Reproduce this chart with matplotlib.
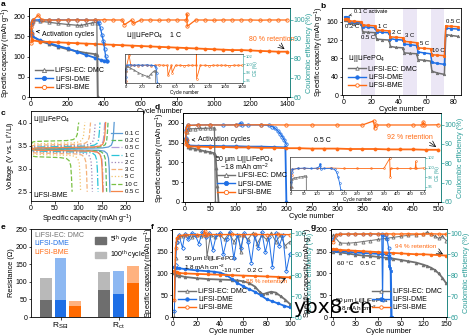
import numpy as np
import matplotlib
matplotlib.use("Agg")
import matplotlib.pyplot as plt
from matplotlib.lines import Line2D
from matplotlib.patches import Patch

plt.rcParams["font.family"] = ["Liberation Sans", "DejaVu Sans"]
plt.rcParams["mathtext.fontset"] = "custom"
plt.rcParams["mathtext.rm"] = "Liberation Sans"
plt.rcParams["mathtext.it"] = "Liberation Sans:italic"
plt.rcParams["mathtext.bf"] = "Liberation Sans:bold"
plt.rcParams["mathtext.default"] = "regular"
plt.rcParams["axes.linewidth"] = 0.6

GRAY = "#707070"
BLUE = "#1f6fe5"
ORANGE = "#ff6a13"
TEAL = "#2a9d98"
FS = 5.0
LFS = 5.3
NAMES = ["LiFSI-EC: DMC", "LiFSI-DME", "LiFSI-BME"]

# ---------------- panel a: 1 C long cycling ----------------
a_ec_cyc = [1, 2, 3, 8, 50, 100, 150, 200, 250, 300, 350, 363, 365]
a_ec_cap = [158, 157, 156, 150, 138, 131, 124, 118, 113, 109, 106, 105, 0]
a_ec_ce_cyc = [1, 3, 10, 50, 100, 150, 200, 250, 275, 300, 335, 360, 364]
a_ec_ce = [95, 98.5, 99.5, 99.2, 98.6, 98.0, 97.5, 97.1, 97.0, 97.6, 98.3, 98.5, 60]

a_dme_cyc = [1, 2, 3, 8, 50, 100, 150, 200, 250, 300, 350, 380, 400, 415]
a_dme_cap = [160, 159, 158, 150, 140, 133, 126, 120, 112, 104, 97, 92, 90, 90]
a_dme_ce_cyc = [1, 2, 3, 10, 50, 100, 150, 200, 250, 300, 350, 365, 372, 380, 388, 395, 402, 408, 415]
a_dme_ce = [92, 97, 99, 99.8, 99.9, 99.8, 99.9, 99.8, 99.9, 99.8, 99.7, 99.2, 98, 95.5, 92, 89, 85, 81, 78.5]

a_bme_cyc = [1, 2, 3, 8, 50, 100, 150, 200, 250, 300, 350, 400, 450, 500, 550, 600,
             650, 700, 750, 800, 850, 900, 950, 1000, 1050, 1100, 1150, 1200, 1250, 1300, 1350, 1400]
a_bme_cap = [158, 157, 156, 140, 137, 136, 135, 134, 133, 132, 131, 130, 129, 128, 127, 126,
             125, 124, 123, 122, 121, 120, 119, 118, 117, 116, 116, 115, 114, 113, 112, 112]
a_bme_ce_cyc = [1, 2, 3, 10, 40, 60, 100, 150, 200, 250, 300, 350, 400, 450, 500, 510, 550, 560, 600,
                650, 700, 750, 800, 850, 852, 854, 900, 950, 1000, 1050, 1100, 1150, 1200, 1250, 1300, 1350, 1400]
a_bme_ce = [88, 96, 98.5, 99.7, 102.3, 99.8, 99.8, 99.7, 99.8, 99.8, 99.7, 99.8, 99.9, 99.8, 99.8, 97.3, 99.8, 98.0, 99.8,
            99.8, 99.7, 99.8, 99.8, 99.8, 103.0, 96.5, 99.8, 99.8, 99.7, 99.8, 99.8, 99.8, 99.8, 99.7, 99.8, 99.8, 99.8]

# ---------------- panel b: rate capability ----------------
b_cyc = [1, 2, 3, 4, 8, 13, 14, 18, 23, 24, 28, 33, 34, 38, 43, 44, 48, 53, 54, 58, 63, 64, 68, 73, 74, 78, 83]
b_ec = [163, 164, 163, 157, 156, 155, 138, 137, 136, 122, 121, 120, 106, 104, 103, 92, 91, 90,
        77, 76, 74, 52, 48, 45, 132, 130, 128]
b_dme = [170, 171, 170, 160, 159, 158, 149, 148, 147, 138, 137, 136, 123, 121, 120, 111, 110, 108,
         94, 92, 90, 71, 69, 67, 146, 145, 144]
b_bme = [165, 167, 167, 162, 161, 160, 153, 152, 151, 142, 141, 140, 127, 126, 125, 117, 116, 114,
         103, 102, 101, 88, 87, 86, 151, 150, 149]
b_bands = [(13, 23), (43, 53), (63, 73)]
b_rate_labels = ["0.2 C", "0.5 C", "1 C", "2 C", "3 C", "5 C", "10 C", "0.5 C"]
b_rate_x = [6, 18, 28, 38.5, 48, 59, 68.5, 79]
b_rate_y = [149, 125, 150, 137, 129, 113, 98, 160]

# ---------------- panel c: voltage profiles (LiFSI-BME) ----------------
c_rates = ["0.1 C", "0.2 C", "0.5 C", "1 C", "2 C", "3 C", "5 C", "10 C", "0.5 C"]
c_colors = ["#5b9bd5", "#5cb85c", "#b39ddb", "#2bc4d8", "#9e86b8", "#f5b27a", "#f2c46d", "#7ac143", "#f4874b"]
c_styles = ["-", "--", "-.", "-.", ":", "--", ":", "--", "-"]
c_chg_cap = [176, 163, 156, 146, 136, 126, 114, 101, 158]
c_dis_cap = [167, 160, 153, 142, 130, 119, 105, 87, 152]
c_chg_v = [3.44, 3.45, 3.46, 3.48, 3.50, 3.52, 3.55, 3.60, 3.46]
c_dis_v = [3.41, 3.40, 3.39, 3.37, 3.35, 3.33, 3.30, 3.25, 3.39]
# profile shape: capacity from start (head) / from end (tail), voltage offset from plateau
c_head_q = [0, 1, 4, 10]
c_chg_head_dv = [-0.20, -0.06, -0.02, -0.01]
c_dis_head_dv = [0.15, 0.06, 0.02, 0.01]
c_tail_q = [-25, -12, -6, -3, -1.5]
c_chg_tail_dv = [0.01, 0.03, 0.07, 0.15, 0.30]
c_dis_tail_dv = [-0.01, -0.03, -0.08, -0.18, -0.40]

# ---------------- panel d: 50 um Li, 0.5 C ----------------
d_ec_cyc = [1, 2, 3, 5, 10, 20, 30, 40, 50, 58, 60, 62, 64, 66]
d_ec_cap = [156, 158, 155, 140, 137, 134, 131, 128, 126, 123, 118, 85, 40, 0]
d_ec_ce_cyc = [1, 3, 5, 10, 20, 30, 40, 50, 58, 60]
d_ec_ce = [92, 96, 97.5, 97.8, 97.9, 98.0, 98.1, 98.2, 98.3, 60]

d_dme_cyc = [1, 2, 3, 5, 25, 50, 75, 100, 125, 150, 175, 198, 200]
d_dme_cap = [160, 158, 157, 143, 142, 142, 141, 141, 140, 140, 139, 138, 0]
d_dme_ce_cyc = [1, 2, 3, 5, 25, 50, 75, 100, 108, 110, 112, 125, 150, 165, 172, 178, 183, 188, 192, 196, 200]
d_dme_ce = [93, 97, 99, 99.6, 99.8, 99.9, 99.8, 99.9, 100.3, 100.8, 99.7, 99.8, 99.8, 99.6, 99.0, 98.0,
            96.8, 95.3, 93.8, 92, 89.8]

d_bme_cyc = [1, 2, 3, 5, 25, 50, 75, 100, 125, 150, 175, 200, 225, 250, 275, 300, 325, 350,
             375, 400, 425, 450, 475, 500]
d_bme_cap = [158, 160, 157, 141, 140, 139, 139, 138, 138, 137, 137, 136, 136, 135, 135, 135, 134, 134,
             134, 133, 133, 133, 132, 132]
d_bme_ce_cyc = [1, 2, 3, 5, 25, 50, 100, 150, 200, 250, 300, 350, 372, 374, 376, 400, 450, 468, 470, 472, 500]
d_bme_ce = [90, 96, 98.5, 99.6, 99.8, 99.8, 99.8, 99.9, 99.8, 99.8, 99.8, 99.8, 101.9, 98.1, 99.8,
            99.8, 99.8, 99.8, 101.3, 99.8, 99.9]

# ---------------- panel e: impedance ----------------
e_groups = [r"R$_{SEI}$", r"R$_{ct}$"]
e_ec_5 = [49, 78]
e_ec_100 = [112, 128]
e_dme_5 = [47, 66]
e_dme_100 = [168, 130]
e_bme_5 = [30, 98]
e_bme_100 = [45, 144]

# ---------------- panel f: -10 C ----------------
f_ec_cyc = [1, 2, 5, 10, 20, 30, 40, 50, 55, 60, 65, 70, 74, 77, 80, 84, 88, 92, 96, 100]
f_ec_cap = [100, 97, 95, 92, 89, 87, 86, 85, 84, 82, 78, 70, 58, 52, 55, 58, 56, 48, 40, 30]
f_ec_ce_cyc = [1, 2, 3, 5, 8, 12, 16, 20, 24, 28, 29, 32, 36, 40, 44, 48, 52, 56, 58, 60,
               64, 68, 72, 76, 80, 84, 88, 92, 96, 100]
f_ec_ce = [60, 88, 96, 98, 98.5, 99, 98, 99, 98.5, 99, 89, 99, 98, 99.5, 97, 100, 96, 99, 91, 99,
           97, 100, 95, 99, 97, 100, 96, 99, 94, 96]

f_dme_cyc = [1, 2, 5, 10, 20, 30, 35, 40, 45, 50, 55, 60, 65, 70, 75, 80, 85, 90, 95, 100]
f_dme_cap = [115, 113, 112, 110, 107, 105, 104, 102, 97, 88, 78, 71, 64, 58, 50, 41, 36, 31, 26, 22]
f_dme_ce_cyc = [1, 2, 3, 5, 8, 10, 13, 16, 19, 22, 25, 28, 31, 34, 37, 40, 43, 46, 49, 52,
                55, 58, 61, 64, 67, 70, 73, 76, 79, 82, 85, 88, 91, 94, 97, 100]
f_dme_ce = [63, 85, 96, 99, 93, 99.5, 97, 100, 99, 95, 100.5, 98, 100, 92, 99, 100, 90, 97, 100.5, 88,
            99, 93, 100, 96, 86, 99, 93, 100.5, 91, 98, 84, 100, 94, 99, 82, 90]

f_bme_cyc = [1, 2, 3, 5, 10, 20, 30, 40, 50, 60, 70, 80, 90, 100]
f_bme_cap = [106, 104, 103, 101, 100, 99, 98, 97, 96, 95, 94, 93, 92, 91]
f_bme_ce_cyc = [1, 2, 3, 5, 10, 20, 26, 27, 28, 30, 40, 50, 60, 70, 80, 90, 100]
f_bme_ce = [68, 93, 97.5, 98.8, 99.2, 99.3, 99.3, 101, 99.3, 99.4, 99.3, 99.4, 99.3, 99.4, 99.3, 99.4, 99.3]

# ---------------- panel g: 60 C ----------------
g_ec_cyc = [1, 10, 20, 30, 40, 50, 60, 70, 80, 90, 100, 110, 120, 125, 130, 135, 140, 145, 150]
g_ec_cap = [150, 148, 146, 143, 141, 140, 138, 136, 134, 131, 128, 125, 120, 117, 113, 108, 100, 90, 77]
g_ec_ce = [99, 95.3, 95.2, 95.5, 96, 96.5, 97, 97.5, 98, 98.5, 99, 99.3, 99.6, 100.5, 99.5, 98.5, 97.5, 98.5, 96.5]

g_dme_cyc = [1, 5, 10, 20, 30, 40, 50, 60, 65, 70, 74, 75, 76, 77, 78]
g_dme_cap = [153, 152, 151, 150, 148, 147, 146, 145, 144, 144, 140, 118, 112, 105, 0]
g_dme_ce_cyc = [1, 5, 10, 20, 30, 40, 50, 60, 65, 66, 67, 70, 72, 74, 75, 76, 77]
g_dme_ce = [97, 99.3, 99.5, 99.5, 99.6, 99.5, 99.6, 99.5, 99.4, 68, 99.2, 99.3, 97, 93, 90, 88, 60]

g_bme_cyc = [1, 5, 10, 20, 30, 40, 50, 60, 70, 80, 90, 100, 110, 120, 130, 140, 150]
g_bme_cap = [156, 155, 154, 153, 152, 151, 150, 149, 148, 147, 146, 145, 144, 144, 143, 142, 141]
g_bme_ce = [96, 99.3, 99.5, 99.6, 99.6, 99.6, 99.7, 99.6, 99.7, 99.6, 99.6, 99.7, 99.6, 99.6, 99.7, 99.6, 99.5]

W, H = 471, 336
fig = plt.figure(figsize=(W / 100, H / 100), dpi=100)


def px_axes(l, t, r, b):
    return fig.add_axes([l / W, 1 - b / H, (r - l) / W, (b - t) / H])


def style(ax, fs=FS):
    ax.tick_params(labelsize=fs, length=1.8, width=0.5, pad=0.8)


def style_ce(ax2, fs=FS):
    ax2.spines["right"].set_color(TEAL)
    ax2.tick_params(axis="y", colors=TEAL, labelsize=fs, length=1.8, width=0.5, pad=0.8)
    ax2.set_ylabel("Coulombic efficiency (%)", fontsize=LFS, color=TEAL, labelpad=0.5)


def handles(ms=3):
    return [Line2D([], [], color=GRAY, marker="^", ms=ms, lw=1, mfc="white", mew=0.6),
            Line2D([], [], color=BLUE, marker="o", ms=ms, lw=1, mew=0.6),
            Line2D([], [], color=ORANGE, marker="o", ms=ms, lw=1, mfc="white", mew=0.6)]


def cap(ax, x, y, color, marker, ms=2.2, lw=1.3):
    ax.plot(x, y, color=color, marker=marker, ms=ms, lw=lw, mew=0.5)


def ce(ax, x, y, color, marker, ms=2.4, lw=0.9):
    ax.plot(x, y, color=color, marker=marker, ms=ms, lw=lw, mfc="none", mew=0.6)


def panel_label(x, y, s):
    fig.text(x / W, 1 - y / H, s, fontsize=6, fontweight="bold", va="top", ha="left")


def ce_inset(box, xmax, xstep, ylim, series):
    ins = px_axes(*box)
    for x, y, c, m in series:
        ins.plot(x, y, color=c, marker=m, ms=1.3, lw=0.6, mfc="none", mew=0.4)
    ins.set_xlim(-xmax * 0.007, xmax * 1.01)
    ins.set_ylim(*ylim)
    ins.set_xticks(range(0, xmax + 1, xstep))
    ins.set_yticks([96, 98, 100, 102])
    ins.yaxis.tick_right()
    ins.yaxis.set_label_position("right")
    ins.tick_params(labelsize=3.0, length=1.2, width=0.4, pad=0.5)
    ins.tick_params(axis="y", colors=TEAL)
    ins.spines["right"].set_color(TEAL)
    for s in ins.spines.values():
        s.set_linewidth(0.4)
    ins.set_xlabel("Cycle number", fontsize=3.3, labelpad=0.3)
    ins.set_ylabel("CE (%)", fontsize=3.3, color=TEAL, labelpad=0.8)
    return ins


# ================= panel a =================
ax = px_axes(29, 8, 290, 97)
ax2 = ax.twinx()
cap(ax, a_ec_cyc, a_ec_cap, GRAY, "^")
cap(ax, a_dme_cyc, a_dme_cap, BLUE, "o")
cap(ax, a_bme_cyc, a_bme_cap, ORANGE, "o")
ce(ax2, a_ec_ce_cyc, a_ec_ce, GRAY, "^")
ce(ax2, a_dme_ce_cyc, a_dme_ce, BLUE, "o")
ce(ax2, a_bme_ce_cyc, a_bme_ce, ORANGE, "o")
ax.set_xlim(-11, 1416)
ax.set_ylim(0, 220)
ax2.set_ylim(60, 106)
ax.set_xticks(range(0, 1401, 200))
ax.set_yticks(range(0, 201, 50))
ax2.set_yticks(range(60, 101, 10))
style(ax)
style_ce(ax2)
ax.set_xlabel("Cycle number", fontsize=LFS, labelpad=0.5)
ax.set_ylabel("Specific capacity (mAh g$^{-1}$)", fontsize=LFS, labelpad=0.5)
ax.annotate("Activation cycles", xy=(12, 163), xytext=(60, 155), fontsize=FS, va="center",
            arrowprops=dict(arrowstyle="->", lw=0.5, color="black"))
ax.text(520, 151, "Li||LiFePO$_4$    1 C", fontsize=FS, va="center")
ax.text(1190, 141, "80 % retention", fontsize=FS, color=ORANGE, va="center")
ax.annotate("", xy=(1398, 114), xytext=(1345, 133),
            arrowprops=dict(arrowstyle="->", lw=0.5, color="black"))
ax2.legend(handles(), NAMES, loc="lower left", bbox_to_anchor=(0.0, 0.0), fontsize=FS, frameon=False,
           handlelength=2.6, labelspacing=0.25, borderpad=0.3, handletextpad=0.4)
ce_inset((125, 54, 243, 83), 1400, 200, (95.4, 102.6),
         [(a_bme_ce_cyc, a_bme_ce, ORANGE, "o"), (a_dme_ce_cyc, a_dme_ce, BLUE, "o"),
          (a_ec_ce_cyc, a_ec_ce, GRAY, "^")])
panel_label(1, 1, "a")

# ================= panel b =================
ax = px_axes(342, 8, 461, 95)
for s, e in b_bands:
    ax.axvspan(s, e, color="#ebe6f5", lw=0, zorder=0)
cap(ax, b_cyc, b_ec, GRAY, "^", ms=1.8, lw=1.1)
cap(ax, b_cyc, b_dme, BLUE, "o", ms=1.8, lw=1.1)
cap(ax, b_cyc, b_bme, ORANGE, "o", ms=1.8, lw=1.1)
ax.set_xlim(-1, 85)
ax.set_ylim(0, 190)
ax.set_xticks(range(0, 81, 20))
ax.set_yticks(range(0, 161, 40))
style(ax)
ax.set_xlabel("Cycle number", fontsize=LFS, labelpad=0.5)
ax.set_ylabel("Specific capacity (mAh g$^{-1}$)", fontsize=LFS, labelpad=0.5)
ax.annotate("0.1 C activate", xy=(2, 173), xytext=(8, 182), fontsize=4.0, va="center",
            arrowprops=dict(arrowstyle="->", lw=0.4, color="black"))
for lab, x, y in zip(b_rate_labels, b_rate_x, b_rate_y):
    ax.text(x, y, lab, fontsize=4.3, ha="center", va="center")
ax.legend(handles(2.5), NAMES, title="Li||LiFePO$_4$", title_fontsize=FS, alignment="left",
          loc="lower left", bbox_to_anchor=(0.0, 0.0), fontsize=FS, frameon=False,
          handlelength=2.6, labelspacing=0.2, borderpad=0.3, handletextpad=0.4)
panel_label(320, 3, "b")

# ================= panel c =================
ax = px_axes(31, 111, 143, 201)
for i in range(len(c_rates)):
    qc, vc = c_chg_cap[i], c_chg_v[i]
    qd, vd = c_dis_cap[i], c_dis_v[i]
    xs = c_head_q + [qc + t for t in c_tail_q] + [qc]
    ys = [vc + d for d in c_chg_head_dv] + [vc + d for d in c_chg_tail_dv] + [4.0]
    ax.plot(xs, ys, color=c_colors[i], ls=c_styles[i], lw=0.9)
    xs = c_head_q + [qd + t for t in c_tail_q] + [qd]
    ys = [vd + d for d in c_dis_head_dv] + [vd + d for d in c_dis_tail_dv] + [2.5]
    ax.plot(xs, ys, color=c_colors[i], ls=c_styles[i], lw=0.9, label=c_rates[i])
ax.set_xlim(0, 237)
ax.set_ylim(2.3, 4.25)
ax.set_xticks(range(0, 201, 50))
ax.set_yticks([2.5, 3.0, 3.5, 4.0])
ax.set_yticklabels(["2.5", "3.0", "3.5", "4.0"])
style(ax)
ax.set_xlabel("Specific capacity (mAh g$^{-1}$)", fontsize=LFS, labelpad=0.5)
ax.set_ylabel("Voltage (V vs. Li$^{+}$/Li)", fontsize=LFS, labelpad=0.5)
ax.text(0.02, 0.97, "Li||LiFePO$_4$", transform=ax.transAxes, fontsize=FS, va="top")
ax.text(0.02, 0.02, "LiFSI-BME", transform=ax.transAxes, fontsize=FS, va="bottom")
ax.legend(loc="center right", bbox_to_anchor=(1.0, 0.43), fontsize=4.3, frameon=False,
          handlelength=1.8, labelspacing=0.35, borderpad=0.2, handletextpad=0.4)
panel_label(1, 110, "c")

# ================= panel d =================
ax = px_axes(183, 113, 441, 202)
ax2 = ax.twinx()
cap(ax, d_ec_cyc, d_ec_cap, GRAY, "^")
cap(ax, d_dme_cyc, d_dme_cap, BLUE, "o")
cap(ax, d_bme_cyc, d_bme_cap, ORANGE, "o")
ce(ax2, d_ec_ce_cyc, d_ec_ce, GRAY, "^")
ce(ax2, d_dme_ce_cyc, d_dme_ce, BLUE, "o")
ce(ax2, d_bme_ce_cyc, d_bme_ce, ORANGE, "o")
ax.set_xlim(-4, 505)
ax.set_ylim(0, 225)
ax2.set_ylim(60, 106)
ax.set_xticks(range(0, 501, 50))
ax.set_yticks(range(0, 201, 50))
ax2.set_yticks(range(60, 101, 10))
style(ax)
style_ce(ax2)
ax.set_xlabel("Cycle number", fontsize=LFS, labelpad=0.5)
ax.set_ylabel("Specific capacity (mAh g$^{-1}$)", fontsize=LFS, labelpad=0.5)
ax.annotate("Activation cycles", xy=(7, 157), xytext=(26, 158), fontsize=FS, va="center",
            arrowprops=dict(arrowstyle="->", lw=0.5, color="black"))
ax.text(270, 155, "0.5 C", fontsize=FS, ha="center", va="center")
ax.text(443, 164, "92 % retention", fontsize=FS, color=ORANGE, ha="center", va="center")
ax.annotate("", xy=(500, 135), xytext=(478, 155),
            arrowprops=dict(arrowstyle="->", lw=0.5, color="black"))
ax.text(118, 107, "50 μm Li||LiFePO$_4$", fontsize=FS, ha="center", va="center")
ax.text(118, 88, "~1.8 mAh cm$^{-2}$", fontsize=FS, ha="center", va="center")
ax2.legend(handles(), NAMES, loc="lower left", bbox_to_anchor=(0.11, 0.0), fontsize=FS, frameon=False,
           handlelength=2.6, labelspacing=0.25, borderpad=0.3, handletextpad=0.4)
ce_inset((290, 157, 425, 190), 500, 50, (95.3, 102.2),
         [(d_bme_ce_cyc, d_bme_ce, ORANGE, "o"), (d_dme_ce_cyc, d_dme_ce, BLUE, "o"),
          (d_ec_ce_cyc, d_ec_ce, GRAY, "^")])
panel_label(155, 104, "d")

# ================= panel e =================
ax = px_axes(31, 229, 150, 317)
pos = np.arange(len(e_groups))
w = 0.2
light = ["#b9b9b9", "#8db8f2", "#ffb27f"]
dark = ["#6e6e6e", "#1e6fe6", "#ff6a00"]
for k, (v5, v100) in enumerate([(e_ec_5, e_ec_100), (e_dme_5, e_dme_100), (e_bme_5, e_bme_100)]):
    xk = pos + (k - 1) * 0.25
    ax.bar(xk, v100, width=w, color=light[k], lw=0)
    ax.bar(xk, v5, width=w, color=dark[k], lw=0)
ax.set_xlim(-0.51, 1.54)
ax.set_ylim(0, 250)
ax.set_xticks(pos)
ax.set_xticklabels(e_groups)
ax.set_yticks(range(0, 251, 50))
style(ax)
ax.tick_params(axis="x", labelsize=6.0)
ax.set_ylabel("Resistance (Ω)", fontsize=LFS, labelpad=0.5)
for k, (name, col) in enumerate(zip(NAMES, [GRAY, BLUE, ORANGE])):
    ax.text(0.03, 0.97 - k * 0.1, name, transform=ax.transAxes, fontsize=FS, color=col, va="top")
ax.legend([Patch(color=dark[0]), Patch(color=light[0])], ["5$^{th}$ cycle", "100$^{th}$ cycle"],
          loc="upper right", bbox_to_anchor=(1.0, 1.0), fontsize=FS, frameon=False,
          handlelength=1.6, handleheight=1.1, labelspacing=0.2, borderpad=0.2, handletextpad=0.5)
panel_label(1, 224, "e")

# ================= panel f =================
ax = px_axes(172, 229, 291, 317)
ax2 = ax.twinx()
cap(ax, f_ec_cyc, f_ec_cap, GRAY, "^", ms=2)
cap(ax, f_dme_cyc, f_dme_cap, BLUE, "o", ms=2)
cap(ax, f_bme_cyc, f_bme_cap, ORANGE, "o", ms=2)
ce(ax2, f_ec_ce_cyc, f_ec_ce, GRAY, "^", ms=2.2, lw=0.7)
ce(ax2, f_dme_ce_cyc, f_dme_ce, BLUE, "D", ms=2.0, lw=0.7)
ce(ax2, f_bme_ce_cyc, f_bme_ce, ORANGE, "o", ms=2.2, lw=1.0)
ax.set_xlim(-1, 101)
ax.set_ylim(0, 202)
ax2.set_ylim(60, 102)
ax.set_xticks(range(0, 101, 20))
ax.set_yticks(range(0, 201, 50))
ax2.set_yticks(range(60, 101, 10))
style(ax)
style_ce(ax2)
ax.set_xlabel("Cycle number", fontsize=LFS, labelpad=0.5)
ax.set_ylabel("Specific capacity (mAh g$^{-1}$)", fontsize=LFS, labelpad=0.5)
ax.text(9, 135, "50 μm Li||LiFePO$_4$", fontsize=4.6, va="center")
ax.text(9, 115, "1.8 mAh cm$^{-2}$", fontsize=4.6, va="center")
ax.text(42, 106, "-10 °C    0.2 C", fontsize=4.6, va="center")
ax.text(62, 82, "88 % retention", fontsize=4.6, color=ORANGE, va="center")
ax.annotate("", xy=(99, 91), xytext=(92, 84),
            arrowprops=dict(arrowstyle="->", lw=0.5, color="black"))
ax2.legend(handles(2.5), NAMES, loc="lower left", bbox_to_anchor=(0.0, 0.0), fontsize=FS, frameon=False,
           handlelength=2.6, labelspacing=0.15, borderpad=0.3, handletextpad=0.4)
panel_label(151, 224, "f")

# ================= panel g =================
ax = px_axes(331, 229, 447, 317)
ax2 = ax.twinx()
cap(ax, g_ec_cyc, g_ec_cap, GRAY, "^", ms=2)
cap(ax, g_dme_cyc, g_dme_cap, BLUE, "s", ms=2)
cap(ax, g_bme_cyc, g_bme_cap, ORANGE, "o", ms=2)
ce(ax2, g_ec_cyc, g_ec_ce, GRAY, "^", ms=2.2, lw=0.7)
ce(ax2, g_dme_ce_cyc, g_dme_ce, BLUE, "o", ms=2.2, lw=0.8)
ce(ax2, g_bme_cyc, g_bme_ce, ORANGE, "o", ms=2.2, lw=1.0)
ax.set_xlim(-2, 151)
ax.set_ylim(0, 202)
ax2.set_ylim(60, 102)
ax.set_xticks(range(0, 151, 30))
ax.set_yticks(range(0, 201, 50))
ax2.set_yticks(range(60, 101, 10))
style(ax)
style_ce(ax2)
ax.set_xlabel("Cycle number", fontsize=LFS, labelpad=0.5)
ax.set_ylabel("Specific capacity (mAh g$^{-1}$)", fontsize=LFS, labelpad=0.5)
ax.text(110, 162, "94 % retention", fontsize=4.6, color=ORANGE, ha="center", va="center")
ax.annotate("", xy=(149, 141), xytext=(136, 153),
            arrowprops=dict(arrowstyle="->", lw=0.5, color="black"))
ax.text(31, 123, "60 °C    0.5 C", fontsize=4.6, ha="center", va="center")
ax.text(3, 38, "50 μm Li||LiFePO$_4$", fontsize=4.6, va="center")
ax.text(5, 21, "1.8 mAh cm$^{-2}$", fontsize=4.6, va="center")
ax2.legend(handles(2.5), NAMES, loc="lower right", bbox_to_anchor=(1.0, 0.0), fontsize=FS, frameon=False,
           handlelength=2.6, labelspacing=0.15, borderpad=0.3, handletextpad=0.4)
panel_label(311, 224, "g")

# watermark
fig.text(293 / W, 1 - 313 / H, "ybx8.cn", fontsize=14.5, family="DejaVu Sans", color="black",
         va="baseline", ha="left")

fig.savefig("out.png", dpi=100)
